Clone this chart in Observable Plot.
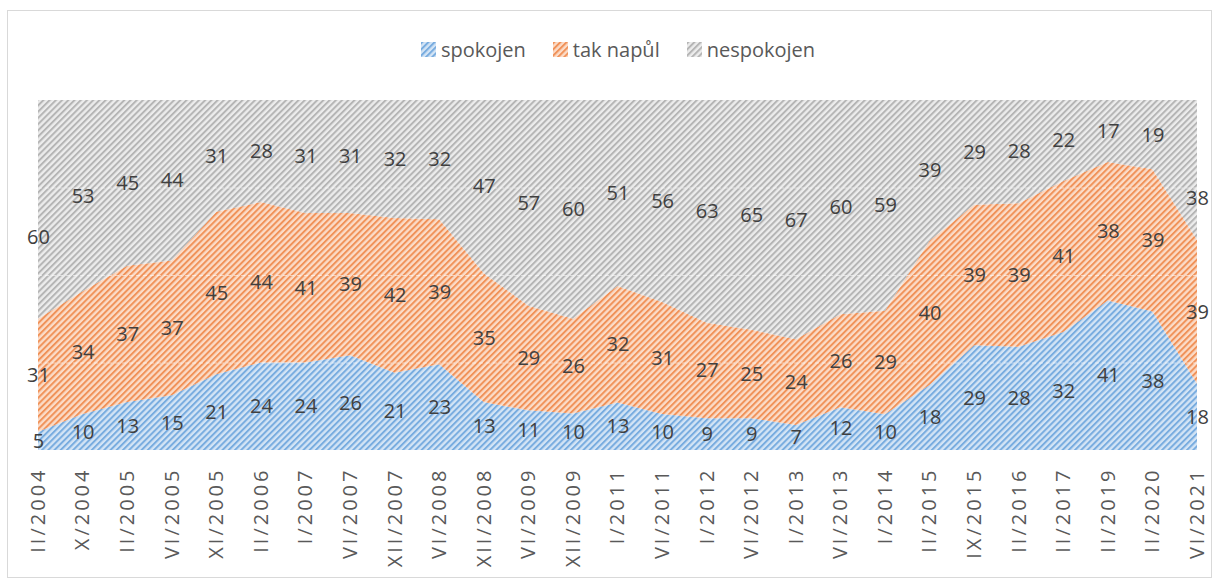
<!DOCTYPE html>
<html>
<head>
<meta charset="utf-8">
<script src="https://cdn.jsdelivr.net/npm/d3@7"></script>
<script src="https://cdn.jsdelivr.net/npm/@observablehq/plot@0.6"></script>
<style>
  html, body { margin: 0; padding: 0; background: #fff; overflow: hidden; }
  #wrap { position: relative; width: 1219px; height: 585px; overflow: hidden; font-family: "Open Sans", sans-serif; }
  #frame { position: absolute; left: 7px; top: 10px; width: 1205px; height: 568px; border: 1px solid #d9d9d9; box-sizing: border-box; pointer-events: none; }
  #legend { height: 80px; box-sizing: border-box; padding-top: 19px; display: flex; justify-content: center; gap: 27px; color: #595959; font-size: 20px; line-height: 24px; padding-left: 17px; }
  #legend .item { display: flex; align-items: center; gap: 5px; }
  #legend svg { display: block; }
  #chart svg { display: block; }
</style>
</head>
<body>
<div id="wrap">
  <div id="frame"></div>
  <div id="legend"></div>
  <div id="chart"></div>
</div>
<script>
const categories = ["II/2004","X/2004","II/2005","VI/2005","XI/2005","II/2006","I/2007","VI/2007","XII/2007","VI/2008","XII/2008","VI/2009","XII/2009","I/2011","VI/2011","I/2012","VI/2012","I/2013","VI/2013","I/2014","II/2015","IX/2015","II/2016","II/2017","II/2019","II/2020","VI/2021"];
const spokojen   = [5,10,13,15,21,24,24,26,21,23,13,11,10,13,10,9,9,7,12,10,18,29,28,32,41,38,18];
const takNapul   = [31,34,37,37,45,44,41,39,42,39,35,29,26,32,31,27,25,24,26,29,40,39,39,41,38,39,39];
const nespokojen = [60,53,45,44,31,28,31,31,32,32,47,57,60,51,56,63,65,67,60,59,39,29,28,22,17,19,38];
const seriesNames = ["spokojen","tak napůl","nespokojen"];

const seriesValues = [spokojen, takNapul, nespokojen];
const rows = [];
seriesNames.forEach((s, k) => {
  seriesValues[k].forEach((v, i) => rows.push({i, series: s, value: v}));
});
const lastIndex = categories.length - 1;

const patIds = {"spokojen": "pat-blue", "tak napůl": "pat-orange", "nespokojen": "pat-gray"};
const patDefs = `
<pattern id="pat-blue" patternUnits="userSpaceOnUse" width="4.4" height="4.4" patternTransform="rotate(45)">
  <rect width="4.4" height="4.4" fill="#d3e4f5"/><rect width="2" height="4.4" fill="#78acdf"/>
</pattern>
<pattern id="pat-orange" patternUnits="userSpaceOnUse" width="4.4" height="4.4" patternTransform="rotate(45)">
  <rect width="4.4" height="4.4" fill="#fbdcc8"/><rect width="2" height="4.4" fill="#f09259"/>
</pattern>
<pattern id="pat-gray" patternUnits="userSpaceOnUse" width="4.4" height="4.4" patternTransform="rotate(45)">
  <rect width="4.4" height="4.4" fill="#ececec"/><rect width="2" height="4.4" fill="#b5b5b5"/>
</pattern>`;

// legend
const legend = document.getElementById("legend");
seriesNames.forEach(s => {
  const item = document.createElement("div");
  item.className = "item";
  item.innerHTML = `<svg width="15" height="15"><defs>${patDefs.replaceAll('id="pat-', 'id="lg-' + patIds[s] + '-')}</defs><rect width="15" height="15" fill="url(#lg-${patIds[s]}-${patIds[s].slice(4)})"/></svg><span>${s}</span>`;
  legend.appendChild(item);
});

const stackOpts = {x: "i", y: "value", z: "series", order: seriesNames, offset: "normalize"};
const isEdgeGray = d => d.series === "nespokojen" && (d.i === 0 || d.i === lastIndex);

const chart = Plot.plot({
  width: 1219,
  height: 505,
  marginTop: 20,
  marginBottom: 135,
  marginLeft: 38,
  marginRight: 22,
  style: {fontFamily: "Open Sans, sans-serif", background: "transparent"},
  x: {type: "linear", domain: [0, lastIndex], axis: null, label: null},
  y: {domain: [0, 1], axis: null, label: null},
  color: {domain: seriesNames, range: seriesNames.map(s => `url(#${patIds[s]})`)},
  marks: [
    Plot.areaY(rows, Plot.stackY({...stackOpts, fill: "series"})),
    Plot.ruleY([0.25, 0.5, 0.75], {stroke: "#ffffff", strokeOpacity: 0.55, strokeDasharray: "4,3"}),
    Plot.text(rows, Plot.stackY({...stackOpts, text: d => isEdgeGray(d) ? "" : String(d.value), fill: "#404040", fontSize: 20})),
    Plot.text(rows, Plot.stackY({...stackOpts, text: d => isEdgeGray(d) ? String(d.value) : "", fill: "#404040", fontSize: 20, dy: 28})),
    Plot.axisX(d3.range(categories.length), {
      tickFormat: i => categories[i], tickRotate: -90, tickSize: 0, tickPadding: 17,
      fontSize: 20, fill: "#595959", anchor: "bottom", label: null
    })
  ]
});
const svg = d3.select(chart);
svg.insert("defs", ":first-child").html(patDefs);
svg.selectAll("g[aria-label='x-axis tick label'] text").style("letter-spacing", "3px");
document.getElementById("chart").appendChild(chart);
</script>
</body>
</html>
